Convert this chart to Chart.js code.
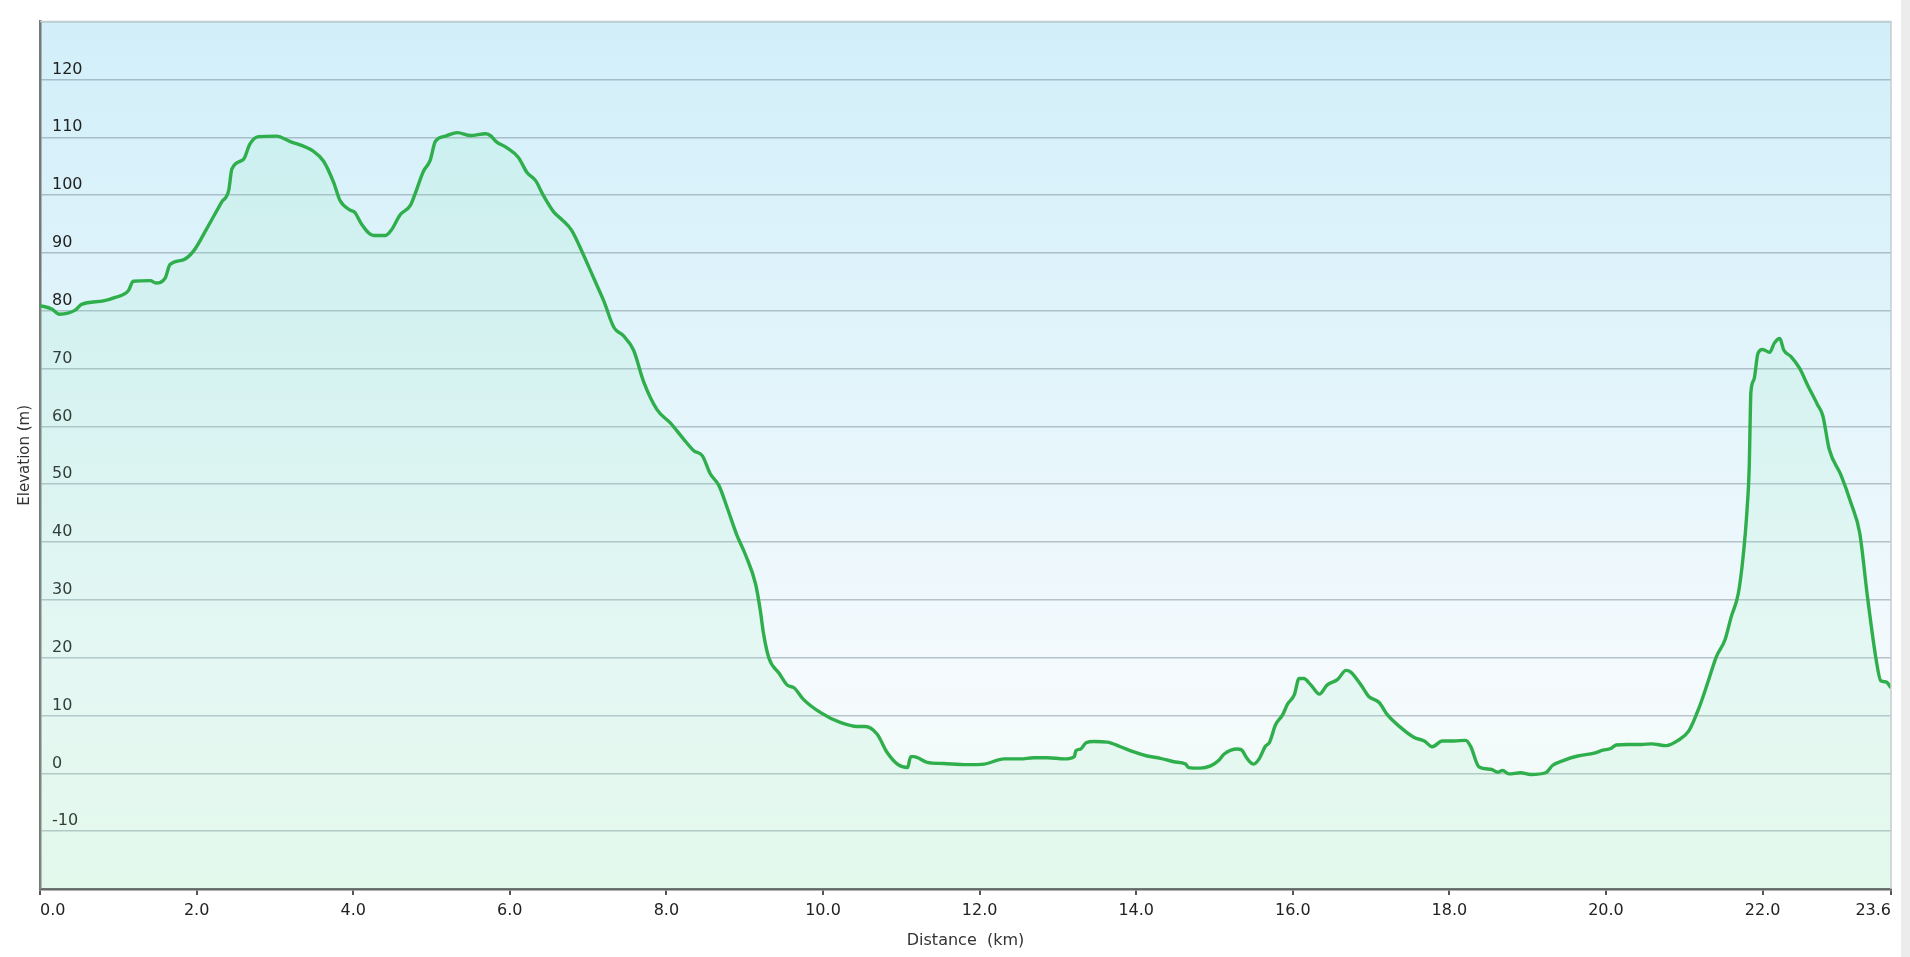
<!DOCTYPE html>
<html lang="en">
<head>
    <meta charset="UTF-8">
    <title>Elevation profile</title>
    <style>
        html, body {
            margin: 0;
            padding: 0;
            background: #ececec;
        }
        #wrap {
            width: 1901px;
            height: 957px;
            background: #ffffff;
        }
    </style>
    <script src="https://cdn.jsdelivr.net/npm/chart.js"></script>
</head>
<body>
    <div id="wrap">
        <canvas id="profileChart" width="1901" height="957"></canvas>
    </div>

    <script>
        // distance along the route (km)
        const distanceKm = [
            0.00, 0.15, 0.25, 0.45, 0.53, 0.81, 0.96, 1.13, 1.19, 1.41,
            1.48, 1.60, 1.66, 1.83, 1.96, 2.13, 2.32, 2.41, 2.45, 2.60,
            2.68, 2.79, 3.02, 3.19, 3.49, 3.62, 3.75, 3.83, 3.96, 4.02,
            4.11, 4.26, 4.41, 4.49, 4.60, 4.73, 4.79, 4.90, 4.98, 5.05,
            5.18, 5.33, 5.50, 5.69, 5.75, 5.83, 5.96, 6.11, 6.22, 6.33,
            6.43, 6.56, 6.67, 6.79, 6.92, 7.07, 7.20, 7.33, 7.45, 7.58,
            7.71, 7.88, 8.05, 8.22, 8.35, 8.46, 8.56, 8.67, 8.78, 8.90,
            9.01, 9.14, 9.20, 9.24, 9.31, 9.44, 9.54, 9.63, 9.75, 9.97,
            10.22, 10.44, 10.54, 10.69, 10.82, 10.95, 11.08, 11.12, 11.16, 11.33,
            11.54, 11.84, 12.06, 12.31, 12.52, 12.69, 12.87, 13.08, 13.21, 13.23,
            13.29, 13.36, 13.46, 13.63, 13.80, 13.97, 14.14, 14.31, 14.48, 14.63,
            14.67, 14.82, 14.95, 15.06, 15.12, 15.29, 15.34, 15.42, 15.50, 15.57,
            15.65, 15.70, 15.78, 15.87, 15.93, 16.02, 16.08, 16.14, 16.23, 16.34,
            16.44, 16.57, 16.68, 16.74, 16.87, 16.97, 17.10, 17.21, 17.38, 17.55,
            17.68, 17.78, 17.91, 18.06, 18.21, 18.27, 18.38, 18.53, 18.62, 18.68,
            18.76, 18.91, 19.04, 19.23, 19.32, 19.47, 19.64, 19.85, 19.96, 20.06,
            20.13, 20.28, 20.45, 20.58, 20.77, 20.92, 21.06, 21.19, 21.30, 21.41,
            21.52, 21.60, 21.69, 21.75, 21.80, 21.83, 21.84, 21.85, 21.89, 21.94,
            22.00, 22.09, 22.15, 22.22, 22.27, 22.36, 22.47, 22.58, 22.70, 22.77,
            22.85, 23.00, 23.13, 23.24, 23.34, 23.45, 23.51, 23.58, 23.64
        ];

        // elevation at each distance (m)
        const elevationM = [
            80.9, 80.3, 79.4, 80.1, 81.1, 81.7, 82.3, 83.5, 85.1, 85.2,
            84.8, 85.7, 88.0, 88.8, 90.3, 94.2, 98.8, 100.8, 104.5, 106.2,
            108.8, 110.1, 110.2, 109.3, 107.6, 105.9, 102.2, 99.1, 97.4, 97.0,
            94.9, 93.0, 93.0, 94.0, 96.6, 98.2, 100.2, 104.2, 105.9, 109.3,
            110.2, 110.8, 110.3, 110.6, 110.3, 109.2, 108.2, 106.5, 103.9, 102.5,
            99.9, 97.1, 95.7, 93.9, 90.3, 85.7, 81.7, 77.1, 75.7, 73.2,
            67.7, 62.9, 60.6, 57.8, 55.8, 54.9, 51.8, 49.8, 45.8, 41.2,
            37.8, 32.7, 28.1, 24.2, 19.9, 17.3, 15.3, 14.8, 12.8, 10.5,
            8.8, 8.1, 8.1, 6.8, 3.6, 1.6, 1.0, 2.9, 2.9, 1.9,
            1.7, 1.5, 1.6, 2.5, 2.5, 2.7, 2.7, 2.5, 2.9, 3.9,
            4.2, 5.3, 5.5, 5.4, 4.6, 3.7, 3.0, 2.6, 2.0, 1.6,
            1.0, 0.9, 1.3, 2.3, 3.3, 4.2, 4.1, 2.5, 1.6, 2.5,
            4.7, 5.3, 8.4, 10.1, 11.9, 13.6, 16.4, 16.4, 15.3, 13.7,
            15.3, 16.2, 17.8, 17.5, 15.3, 13.3, 12.3, 10.1, 7.9, 6.2,
            5.6, 4.6, 5.6, 5.6, 5.7, 4.7, 1.1, 0.7, 0.2, 0.5,
            -0.1, 0.1, -0.2, 0.1, 1.4, 2.3, 3.0, 3.5, 4.0, 4.3,
            4.9, 5.0, 5.0, 5.1, 4.8, 5.7, 7.4, 11.4, 15.7, 20.2,
            23.1, 27.1, 31.1, 37.3, 45.3, 53.3, 60.1, 65.8, 68.1, 72.6,
            73.3, 72.8, 74.4, 75.2, 73.2, 72.1, 70.1, 67.0, 63.8, 61.8,
            56.1, 51.6, 46.7, 41.6, 30.5, 19.7, 16.0, 15.8, 14.8
        ];

        // x tick positions (last one is the route length)
        const distanceTicks = [0, 2, 4, 6, 8, 10, 12, 14, 16, 18, 20, 22, 23.64];
        // y range and labelled elevations
        const elevationMin = -20;
        const elevationMax = 130;
        const elevationLabels = [-10, 0, 10, 20, 30, 40, 50, 60, 70, 80, 90, 100, 110, 120];

        const points = distanceKm.map((d, i) => ({ x: d, y: elevationM[i] }));

        // sky-like background and the light frame on top/right
        const plotFrame = {
            id: 'plotFrame',
            beforeDraw(chart) {
                const { ctx, chartArea: a } = chart;
                const g = ctx.createLinearGradient(0, a.top, 0, a.bottom);
                g.addColorStop(0, '#d2eff9');
                g.addColorStop(0.45, '#e4f5fb');
                g.addColorStop(0.75, '#f4fafd');
                g.addColorStop(1, '#f1fcf5');
                ctx.save();
                ctx.fillStyle = g;
                ctx.fillRect(a.left, a.top, a.right - a.left, a.bottom - a.top);
                ctx.restore();
            },
            afterDraw(chart) {
                const { ctx, chartArea: a } = chart;
                ctx.save();
                ctx.strokeStyle = '#c3ccd0';
                ctx.lineWidth = 1.5;
                ctx.beginPath();
                ctx.moveTo(a.left, a.top);
                ctx.lineTo(a.right, a.top);
                ctx.lineTo(a.right, a.bottom);
                ctx.stroke();
                ctx.restore();
            }
        };

        window.onload = function() {
            const ctx = document.getElementById('profileChart').getContext('2d');

            new Chart(ctx, {
                type: 'line',
                data: {
                    datasets: [{
                        label: 'Elevation',
                        data: points,
                        borderColor: '#2fae4c',
                        borderWidth: 3.4,
                        backgroundColor: 'rgba(150, 232, 190, 0.15)',
                        fill: 'start',
                        pointRadius: 0,
                        cubicInterpolationMode: 'monotone'
                    }]
                },
                options: {
                    responsive: false,
                    animation: false,
                    layout: { padding: { top: 11, right: 10, left: 0, bottom: 0 } },
                    plugins: {
                        legend: { display: false },
                        tooltip: { enabled: false }
                    },
                    scales: {
                        x: {
                            type: 'linear',
                            min: 0,
                            max: distanceTicks[distanceTicks.length - 1],
                            afterBuildTicks: (scale) => {
                                scale.ticks = distanceTicks.map(v => ({ value: v }));
                            },
                            afterFit: (scale) => { scale.height = 68; },
                            ticks: {
                                align: 'inner',
                                padding: 6,
                                color: '#222',
                                font: { family: 'DejaVu Sans', size: 16 },
                                callback: (v) => Number(v).toFixed(1)
                            },
                            grid: {
                                drawOnChartArea: false,
                                drawTicks: true,
                                tickLength: 6,
                                color: '#555',
                                lineWidth: 2
                            },
                            border: { color: '#666', width: 2.5 },
                            title: {
                                display: true,
                                text: 'Distance  (km)',
                                color: '#333',
                                font: { family: 'DejaVu Sans', size: 16 },
                                padding: { top: 0, bottom: 7 }
                            }
                        },
                        y: {
                            min: elevationMin,
                            max: elevationMax,
                            afterFit: (scale) => { scale.width = 40; },
                            ticks: {
                                stepSize: 10,
                                mirror: true,
                                padding: 12,
                                labelOffset: -10,
                                color: '#222',
                                font: { family: 'DejaVu Sans', size: 16 },
                                callback: (v) => elevationLabels.includes(v) ? String(v) : ''
                            },
                            grid: {
                                drawTicks: false,
                                color: 'rgba(100, 120, 130, 0.42)',
                                lineWidth: 1.5
                            },
                            border: { color: '#777', width: 2.5 },
                            title: {
                                display: true,
                                text: 'Elevation (m)',
                                color: '#333',
                                font: { family: 'DejaVu Sans', size: 15 },
                                padding: { top: 16, bottom: 0 }
                            }
                        }
                    }
                },
                plugins: [plotFrame]
            });
        };
    </script>
</body>
</html>
